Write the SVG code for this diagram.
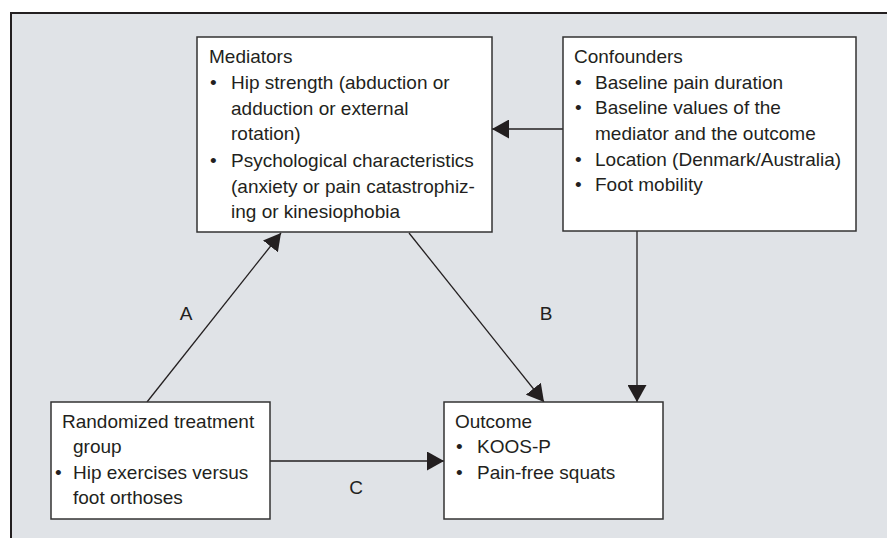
<svg xmlns="http://www.w3.org/2000/svg" width="887" height="538" viewBox="0 0 887 538">
<defs>
<style>
.box{fill:#fff;stroke:#333;stroke-width:1.5}
.t{font-family:"Liberation Sans",Arial,sans-serif;font-size:19px;fill:#231f20}
.lbl{font-family:"Liberation Sans",Arial,sans-serif;font-size:19px;fill:#231f20;text-anchor:middle}
.edge{stroke:#231f20;stroke-width:1.3;fill:none;marker-end:url(#ah)}
</style>
<marker id="ah" markerWidth="17" markerHeight="19" refX="17" refY="9.5" orient="auto" markerUnits="userSpaceOnUse">
<path d="M0,0 L17,9.5 L0,19 Z" fill="#231f20"/>
</marker>
</defs>
<rect x="0" y="0" width="887" height="538" fill="#fff"/>
<rect x="11" y="13" width="900" height="560" fill="#e0e3e7" stroke="#231f20" stroke-width="2"/>

<g id="connectors">
<line class="edge" x1="147" y1="402" x2="281" y2="233"/>
<line class="edge" x1="409" y1="233" x2="544" y2="402"/>
<line class="edge" x1="637" y1="231" x2="637" y2="402"/>
<line class="edge" x1="563" y1="129" x2="492" y2="129"/>
<line class="edge" x1="270" y1="461" x2="444" y2="461"/>
<text class="lbl" x="186" y="320">A</text>
<text class="lbl" x="546" y="320">B</text>
<text class="lbl" x="356" y="494">C</text>
</g>

<g id="mediators">
<rect class="box" x="197" y="37" width="295" height="195"/>
<text class="t" x="209" y="63">Mediators</text>
<text class="t" x="210" y="89">•</text>
<text class="t" x="231" y="89">Hip strength (abduction or</text>
<text class="t" x="231" y="115">adduction or external</text>
<text class="t" x="231" y="140">rotation)</text>
<text class="t" x="210" y="167">•</text>
<text class="t" x="231" y="167">Psychological characteristics</text>
<text class="t" x="231" y="193">(anxiety or pain catastrophiz-</text>
<text class="t" x="231" y="218">ing or kinesiophobia</text>
</g>

<g id="confounders">
<rect class="box" x="563" y="37" width="293" height="194"/>
<text class="t" x="574" y="63">Confounders</text>
<text class="t" x="575" y="89">•</text>
<text class="t" x="595" y="89">Baseline pain duration</text>
<text class="t" x="575" y="114">•</text>
<text class="t" x="595" y="114">Baseline values of the</text>
<text class="t" x="595" y="140">mediator and the outcome</text>
<text class="t" x="575" y="166">•</text>
<text class="t" x="595" y="166">Location (Denmark/Australia)</text>
<text class="t" x="575" y="191">•</text>
<text class="t" x="595" y="191">Foot mobility</text>
</g>

<g id="treatment">
<rect class="box" x="51" y="402" width="219" height="117"/>
<text class="t" x="62" y="428">Randomized treatment</text>
<text class="t" x="73" y="453">group</text>
<text class="t" x="55" y="479">•</text>
<text class="t" x="73" y="479">Hip exercises versus</text>
<text class="t" x="73" y="504">foot orthoses</text>
</g>

<g id="outcome">
<rect class="box" x="444" y="402" width="219" height="117"/>
<text class="t" x="455" y="428">Outcome</text>
<text class="t" x="456" y="453">•</text>
<text class="t" x="477" y="453">KOOS-P</text>
<text class="t" x="456" y="479">•</text>
<text class="t" x="477" y="479">Pain-free squats</text>
</g>
</svg>
